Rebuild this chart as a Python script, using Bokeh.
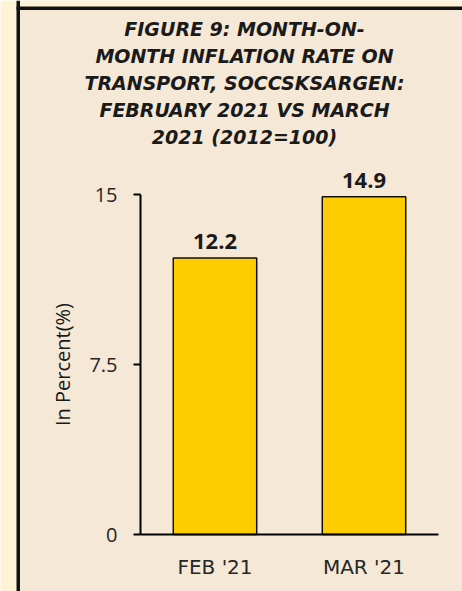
from bokeh.plotting import figure
from bokeh.models import ColumnDataSource, Range1d, FixedTicker, Label, Span, BoxAnnotation
from bokeh.core.properties import value
from bokeh.embed import file_html
from bokeh.resources import INLINE

months = ["FEB '21", "MAR '21"]
rates = [12.2, 14.9]
rate_labels = ["12.2", "14.9"]
y_ticks = [0, 7.5, 15]
y_tick_labels = ["0", "7.5", "15"]
title_lines = [
    "FIGURE 9: MONTH-ON-",
    "MONTH INFLATION RATE ON",
    "TRANSPORT, SOCCSKSARGEN:",
    "FEBRUARY 2021 VS MARCH",
    "2021 (2012=100)",
]
y_title = "In Percent(%)"

# category slots: one unit per month, bar centred in its slot
x_pos = [i + 0.5 for i in range(len(months))]

W, H = 462, 591
INSIDE = "#F5E8D7"
OUTSIDE = "#FFF3D6"
RULE = "#111111"

# pixel layout (canvas coordinates)
AX_LEFT, AX_RIGHT, AX_BOTTOM = 140.0, 438.0, 534.0
PX_PER_CAT = (AX_RIGHT - AX_LEFT) / len(months)
PX_PER_UNIT = 170.0 / 7.5

x_range = Range1d(-AX_LEFT / PX_PER_CAT, (W - AX_LEFT) / PX_PER_CAT)
y_range = Range1d(-(H - AX_BOTTOM) / PX_PER_UNIT, AX_BOTTOM / PX_PER_UNIT)


def px_x(px):
    return (px - AX_LEFT) / PX_PER_CAT


def px_y(py):
    return (AX_BOTTOM - py) / PX_PER_UNIT


p = figure(width=W, height=H, x_range=x_range, y_range=y_range,
           output_backend="svg", toolbar_location=None,
           min_border=0, min_border_left=0, min_border_right=0,
           min_border_top=0, min_border_bottom=0)

p.background_fill_color = OUTSIDE
p.border_fill_color = OUTSIDE
p.outline_line_color = None
p.xgrid.visible = False
p.ygrid.visible = False

# framed panel: inner fill (decoration, in pixels)
p.quad(left=[px_x(19.5)], right=[px_x(W + 10)], top=[px_y(9.5)], bottom=[px_y(H + 10)],
       fill_color=INSIDE, line_alpha=0)

# black left / top rules of the frame
p.add_layout(Span(location=17.75, location_units="screen", dimension="height",
                  line_color=RULE, line_width=3.5))
p.add_layout(BoxAnnotation(left=16, right=W + 10, top=H - 6, bottom=H - 9.5,
                           left_units="screen", right_units="screen",
                           top_units="screen", bottom_units="screen",
                           fill_color=RULE, fill_alpha=1, line_alpha=0))

src = ColumnDataSource(dict(x=x_pos, months=months, rates=rates, labels=rate_labels))
p.vbar(x="x", top="rates", width=0.56, source=src,
       fill_color="#FFCC00", line_color="#111111", line_width=1.5)
p.text(x="x", y="rates", text="labels", source=src,
       text_align="center", text_baseline="alphabetic", y_offset=-16,
       text_font=value("Open Sans"), text_font_style="bold",
       text_font_size="22px", text_color="#1a1a1a")

# y axis
ya = p.yaxis[0]
ya.fixed_location = 0
ya.ticker = FixedTicker(ticks=y_ticks)
ya.major_label_overrides = dict(zip(y_ticks, y_tick_labels))
ya.bounds = (0, 15)
ya.axis_line_width = 2
ya.axis_line_color = "black"
ya.major_tick_line_width = 2
ya.major_tick_line_color = "black"
ya.major_tick_out = 7
ya.major_tick_in = 0
ya.minor_tick_out = 0
ya.minor_tick_in = 0
ya.major_label_standoff = 16
ya.major_label_text_font = "Open Sans"
ya.major_label_text_font_size = "20px"
ya.major_label_text_color = "#262626"
ya.axis_label = y_title
ya.axis_label_text_font = "Open Sans"
ya.axis_label_text_font_size = "20px"
ya.axis_label_text_font_style = "normal"
ya.axis_label_text_color = "#1a1a1a"
ya.axis_label_standoff = 10

# x axis
xa = p.xaxis[0]
xa.fixed_location = 0
xa.ticker = FixedTicker(ticks=x_pos)
xa.major_label_overrides = dict(zip(x_pos, months))
xa.bounds = (0, len(months))
xa.axis_line_width = 2
xa.axis_line_color = "black"
xa.major_tick_out = 0
xa.major_tick_in = 0
xa.minor_tick_out = 0
xa.minor_tick_in = 0
xa.major_label_standoff = 20
xa.major_label_text_font = "DejaVu Sans"
xa.major_label_text_font_size = "20px"
xa.major_label_text_color = "#262626"

# title lines
for i, line in enumerate(title_lines):
    p.add_layout(Label(x=244, y=H - 28.5 - 27 * i, x_units="screen", y_units="screen",
                       text=line, text_align="center", text_baseline="middle",
                       text_font="DejaVu Sans", text_font_style="bold italic",
                       text_font_size="19px", text_color="#1a1a1a"))

open("out.html", "w").write(file_html(p, INLINE))
